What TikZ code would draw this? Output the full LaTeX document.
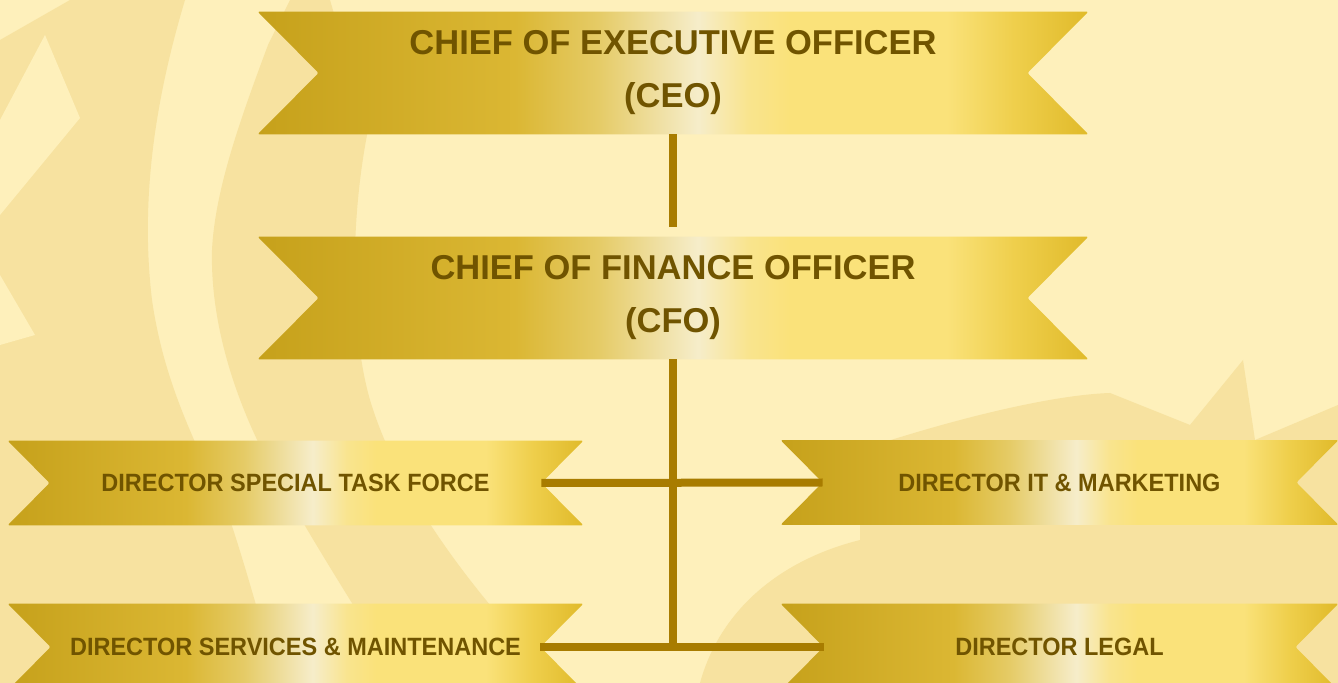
\documentclass[tikz,border=0pt]{standalone}
\usepackage{fontspec}
\setmainfont{Liberation Sans}
\newfontfamily\dirfont[FakeStretch=0.94]{Liberation Sans}
\usetikzlibrary{calc}
\definecolor{paper}{HTML}{FEF0BB}
\definecolor{swirl}{HTML}{F7E2A0}
\definecolor{ink}{HTML}{705400}
\definecolor{stem}{HTML}{A87C00}
\definecolor{g0}{HTML}{C6A11B}
\definecolor{g1}{HTML}{DBB733}
\definecolor{g2}{HTML}{E5CB66}
\definecolor{g3}{HTML}{F6EDCA}
\definecolor{g4}{HTML}{F9E48E}
\definecolor{g5}{HTML}{FAE27A}
\definecolor{g6}{HTML}{EFCF4C}
\definecolor{g7}{HTML}{E0BA2A}
\pgfdeclarehorizontalshading{gold}{100bp}{color(0bp)=(g0); color(25bp)=(g0); color(40.5bp)=(g1); color(45.5bp)=(g2); color(51.5bp)=(g3); color(54.5bp)=(g4); color(57bp)=(g5); color(66.5bp)=(g5); color(70.5bp)=(g6); color(75bp)=(g7); color(100bp)=(g7)}
\pgfdeclarelayer{paperlayer}
\pgfdeclarelayer{ribbonlayer}
\pgfsetlayers{paperlayer,ribbonlayer,main}

\begin{document}
\begin{tikzpicture}[x=0.5pt,y=-0.5pt,
	chief/.style={minimum width=415pt,minimum height=61pt,inner sep=0pt,align=center,text=ink,
		font=\bfseries\fontsize{17.25pt}{26.5pt}\selectfont},
	director/.style={minimum width=287.5pt,minimum height=42pt,inner sep=0pt,text=ink,
		font=\dirfont\bfseries\fontsize{12.5pt}{15pt}\selectfont},
	link/.style={draw=stem,line width=4pt}]
	\useasboundingbox (0,0) rectangle (1338,683);

	% background paper with faint swirls
	\begin{pgfonlayer}{paperlayer}
		\begin{scope}
			\clip (0,0) rectangle (1338,683);
			\fill[paper] (0,0) rectangle (1338,683);
			\fill[swirl] (70,0) -- (185,0) .. controls (155,100) and (140,200) .. (152,300)
				.. controls (165,390) and (200,450) .. (230,520) .. controls (250,580) and (265,640) .. (280,683)
				-- (0,683) -- (0,40) -- cycle;
			\fill[paper] (0,120) -- (45,35) -- (80,118) -- (0,215) -- cycle;
			\fill[paper] (0,275) -- (35,335) -- (0,345) -- cycle;
			\fill[swirl] (268,45) .. controls (240,120) and (215,190) .. (212,250)
				.. controls (210,330) and (240,420) .. (290,500) .. controls (330,570) and (370,630) .. (400,683)
				-- (560,683) .. controls (480,600) and (400,500) .. (370,400)
				.. controls (350,330) and (350,220) .. (368,130) -- (330,0) -- (290,0) -- cycle;
			\fill[swirl] (860,450) .. controls (950,420) and (1050,395) .. (1110,393) -- (1190,425)
				-- (1243,360) -- (1255,440) -- (1338,405) -- (1338,683) -- (700,683)
				.. controls (720,610) and (780,560) .. (860,540) -- cycle;
		\end{scope}
	\end{pgfonlayer}

	\node[chief] (ceo) at (673,73) {CHIEF OF EXECUTIVE OFFICER\\(CEO)};
	\node[chief] (cfo) at (673,298) {CHIEF OF FINANCE OFFICER\\(CFO)};
	\node[director] (dst) at (295.5,483) {DIRECTOR SPECIAL TASK FORCE};
	\node[director,minimum width=278.5pt] (dit) at (1059.5,482.5) {DIRECTOR IT \& MARKETING};
	\node[director,minimum height=43pt] (dsm) at (295.5,647) {DIRECTOR SERVICES \& MAINTENANCE};
	\node[director,minimum width=278.5pt,minimum height=43pt] (dlg) at (1059.5,647) {DIRECTOR LEGAL};

	% ribbons with notched ends
	\begin{pgfonlayer}{ribbonlayer}
		\foreach \n/\d in {ceo/61,cfo/61,dst/42,dit/42,dsm/43,dlg/43} {
			\coordinate (\n-l) at ($(\n.west)+(\d,0)$);
			\coordinate (\n-r) at ($(\n.east)-(\d,0)$);
			\shade[shading=gold,rounded corners=1pt] (\n.north west) -- (\n.north east) -- (\n-r)
				-- (\n.south east) -- (\n.south west) -- (\n-l) -- cycle;
		}
	\end{pgfonlayer}

	\draw[link] (ceo.south) -- ([yshift=5pt]cfo.north);
	\draw[link] (cfo.south) -- (cfo.south |- dsm-r);
	\draw[link] (dst-r) -- (dit-l);
	\draw[link] (dsm-r) -- (dlg-l);
\end{tikzpicture}
\end{document}
